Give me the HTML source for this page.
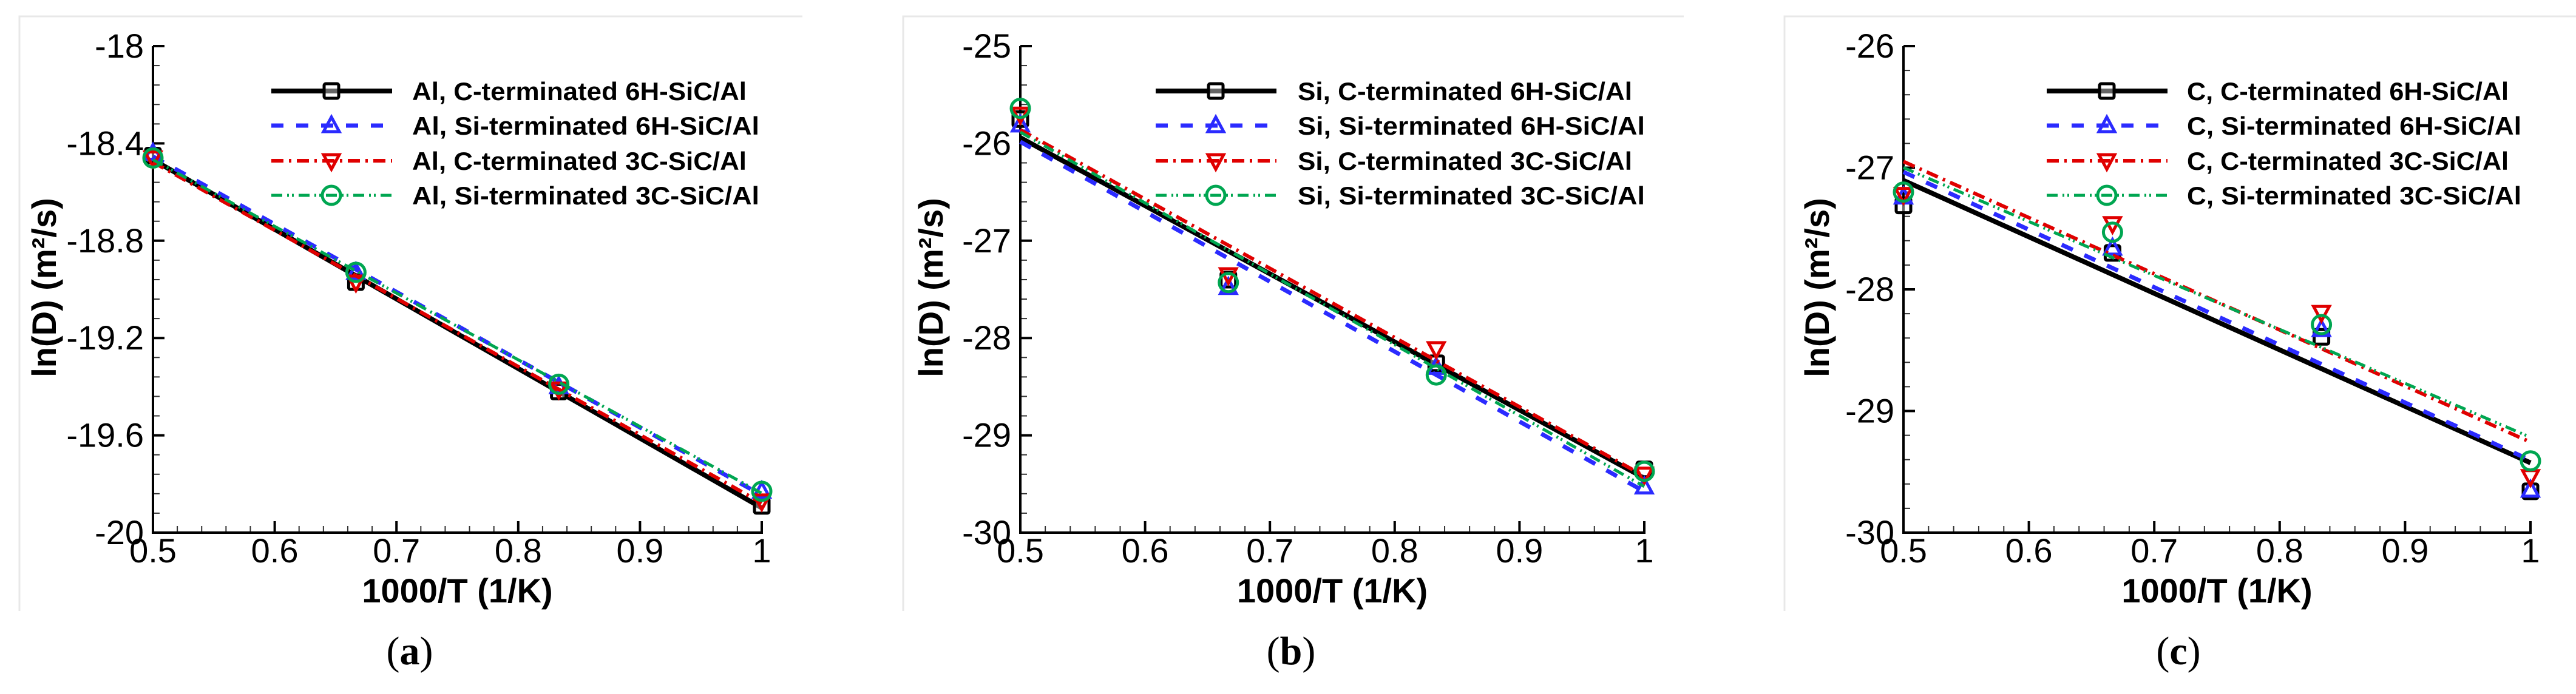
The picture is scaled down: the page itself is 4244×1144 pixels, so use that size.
<!DOCTYPE html>
<html><head><meta charset="utf-8"><style>
html,body{margin:0;padding:0;background:#fff;}
svg{display:block;}
text{font-family:"Liberation Sans",Arial,sans-serif;}
</style></head>
<body>
<svg id="fig" width="4244" height="1144" viewBox="0 0 4244 1144" xmlns="http://www.w3.org/2000/svg"></svg>
<script>
// ---- data ----
const xValues = [0.5, 0.6667, 0.8333, 1.0];
const xTickLabels = ["0.5","0.6","0.7","0.8","0.9","1"];
const seriesNamesA = ["Al, C-terminated 6H-SiC/Al","Al, Si-terminated 6H-SiC/Al","Al, C-terminated 3C-SiC/Al","Al, Si-terminated 3C-SiC/Al"];
const seriesNamesB = ["Si, C-terminated 6H-SiC/Al","Si, Si-terminated 6H-SiC/Al","Si, C-terminated 3C-SiC/Al","Si, Si-terminated 3C-SiC/Al"];
const seriesNamesC = ["C, C-terminated 6H-SiC/Al","C, Si-terminated 6H-SiC/Al","C, C-terminated 3C-SiC/Al","C, Si-terminated 3C-SiC/Al"];
// panel a
const a_c6H = [-18.45, -18.97, -19.42, -19.89];
const a_si6H = [-18.44, -18.93, -19.40, -19.83];
const a_c3C = [-18.46, -18.97, -19.41, -19.87];
const a_si3C = [-18.46, -18.93, -19.39, -19.83];
const a_yTicks = ["-18","-18.4","-18.8","-19.2","-19.6","-20"];
// panel b
const b_c6H = [-25.75, -27.40, -28.26, -29.35];
const b_si6H = [-25.81, -27.48, -28.30, -29.53];
const b_c3C = [-25.70, -27.35, -28.11, -29.40];
const b_si3C = [-25.64, -27.43, -28.38, -29.37];
const b_yTicks = ["-25","-26","-27","-28","-29","-30"];
// panel c
const c_c6H = [-27.31, -27.70, -28.39, -29.66];
const c_si6H = [-27.24, -27.66, -28.33, -29.65];
const c_c3C = [-27.22, -27.46, -28.19, -29.54];
const c_si3C = [-27.20, -27.53, -28.29, -29.41];
const c_yTicks = ["-26","-27","-28","-29","-30"];

const NS = "http://www.w3.org/2000/svg";
const svg = document.getElementById('fig');
function mk(tag, attrs, parent){
  const e = document.createElementNS(NS, tag);
  for (const k in attrs) e.setAttribute(k, attrs[k]);
  (parent||svg).appendChild(e);
  return e;
}
const styles = [
  {color:"#000000", w:8, dash:"", marker:"square", name:"c-6h"},
  {color:"#2b2bff", w:7, dash:"20,21", marker:"tri-up", name:"si-6h"},
  {color:"#e00000", w:6, dash:"20,9,4,9", marker:"tri-down", name:"c-3c"},
  {color:"#00a651", w:5, dash:"18,8,3,5,3,8", marker:"circle", name:"si-3c"}
];
const panels = [
  {id:"a", series:[a_c6H,a_si6H,a_c3C,a_si3C], names:seriesNamesA, yTicks:a_yTicks, ymax:-18, ymin:-20, minorStep:0.08,
   x0:252, x1:1255, frameL:32, frameR:1322, legX:447, textX:679, ytitleX:92, capX:675},
  {id:"b", series:[b_c6H,b_si6H,b_c3C,b_si3C], names:seriesNamesB, yTicks:b_yTicks, ymax:-25, ymin:-30, minorStep:0.2,
   x0:1681, x1:2709, frameL:1488, frameR:2774, legX:1904, textX:2138, ytitleX:1553, capX:2127},
  {id:"c", series:[c_c6H,c_si6H,c_c3C,c_si3C], names:seriesNamesC, yTicks:c_yTicks, ymax:-26, ymin:-30, minorStep:0.2,
   x0:3136, x1:4169, frameL:2940, frameR:4244, legX:3372, textX:3603, ytitleX:3013, capX:3589}
];
const yTop = 76, yBot = 878;

function drawMarker(g, type, cx, cy, color){
  let m;
  if (type==="square") m = mk('rect',{x:cx-12,y:cy-12,width:24,height:24,rx:3,fill:"#fff","fill-opacity":0.4,stroke:color,"stroke-width":5},g);
  else if (type==="circle") m = mk('circle',{cx:cx,cy:cy,r:15,fill:"none",stroke:color,"stroke-width":5},g);
  else if (type==="tri-up") m = mk('polygon',{points:`${cx},${cy-14} ${cx+13},${cy+10} ${cx-13},${cy+10}`,fill:"none",stroke:color,"stroke-width":5},g);
  else m = mk('polygon',{points:`${cx},${cy+14} ${cx+13},${cy-10} ${cx-13},${cy-10}`,fill:"none",stroke:color,"stroke-width":5},g);
  
  
  return m;
}
function fit(xs, ys){
  const n = xs.length; let mx=0,my=0; for(let i=0;i<n;i++){mx+=xs[i];my+=ys[i];} mx/=n; my/=n;
  let sxy=0,sxx=0; for(let i=0;i<n;i++){sxy+=(xs[i]-mx)*(ys[i]-my); sxx+=(xs[i]-mx)**2;}
  const s = sxy/sxx; return x => my + s*(x-mx);
}

panels.forEach(p=>{
  const g = mk('g',{});
  
  
  const X = v => p.x0 + (v-0.5)/0.5*(p.x1-p.x0);
  const Y = v => yTop + (p.ymax - v)/(p.ymax-p.ymin)*(yBot-yTop);
  const fr = mk('path',{d:`M${p.frameL},1007 L${p.frameL},27 L${p.frameR},27`,fill:"none",stroke:"#e8e8e8","stroke-width":3},g);
  
  
  const nMinor = Math.round((p.ymax-p.ymin)/p.minorStep);
  for(let i=0;i<=nMinor;i++){
    const v = p.ymax - i*p.minorStep;
    const t = mk('line',{x1:p.x0,x2:p.x0+11,y1:Y(v),y2:Y(v),stroke:"#333","stroke-width":2},g);
    
    
  }
  p.yTicks.forEach(lbl=>{
    const v = parseFloat(lbl);
    const t = mk('line',{x1:p.x0,x2:p.x0+19,y1:Y(v),y2:Y(v),stroke:"#000","stroke-width":4},g);
    
    
    const tx = mk('text',{x:p.x0-15,y:Y(v)+19,"text-anchor":"end","font-size":56,fill:"#000"},g);
    tx.textContent = lbl;
    
    
  });
  for(let i=0;i<=25;i++){
    const v = 0.5 + i*0.02;
    const major = i%5===0;
    const t = mk('line',{x1:X(v),x2:X(v),y1:yBot,y2:yBot-(major?19:11),stroke:major?"#000":"#333","stroke-width":major?4:2},g);
    
    
  }
  xTickLabels.forEach(lbl=>{
    const v = parseFloat(lbl);
    const tx = mk('text',{x:X(v),y:927,"text-anchor":"middle","font-size":56,fill:"#000"},g);
    tx.textContent = lbl;
    
    
  });
  const ax = mk('path',{d:`M${p.x0},${yTop} L${p.x0},${yBot} L${p.x1},${yBot} L${p.x1},${yBot-19}`,fill:"none",stroke:"#000","stroke-width":4},g);
  
  
  const xt = mk('text',{x:(p.x0+p.x1)/2,y:993,"text-anchor":"middle","font-size":56,"font-weight":"bold",fill:"#000"},g);
  xt.textContent = "1000/T (1/K)";
  
  
  const yt = mk('text',{x:0,y:0,"text-anchor":"middle","font-size":56,"font-weight":"bold",fill:"#000",transform:`translate(${p.ytitleX},474) rotate(-90)`},g);
  yt.textContent = "ln(D) (m²/s)";
  
  
  p.series.forEach((ys,si)=>{
    const st = styles[si];
    const sg = mk('g',{},g);
    
    
    const f = fit(xValues, ys);
    const ln = mk('line',{x1:X(0.5),y1:Y(f(0.5)),x2:X(1),y2:Y(f(1)),stroke:st.color,"stroke-width":st.w,"stroke-dasharray":st.dash},sg);
    
    
    ys.forEach((v,i)=>{ drawMarker(sg, st.marker, X(xValues[i]), Y(v), st.color); });
  });
  const lg = mk('g',{},g);
  
  
  const rows = [150,207,265,322];
  p.names.forEach((nm,si)=>{
    const st = styles[si];
    const eg = mk('g',{},lg);
    
    
    const y = rows[si];
    mk('line',{x1:p.legX,x2:p.legX+199,y1:y,y2:y,stroke:st.color,"stroke-width":st.w,"stroke-dasharray":st.dash},eg);
    drawMarker(eg, st.marker, p.legX+99, y, st.color);
    const tx = mk('text',{x:p.textX,y:y+15,"font-size":42,"font-weight":"bold",fill:"#000",textLength:Math.round(20.8*nm.length+10),lengthAdjust:"spacingAndGlyphs"},eg);
    tx.textContent = nm;
    
    
  });
  const cap = mk('text',{x:p.capX,y:1095,"text-anchor":"middle","font-size":66,fill:"#000",style:"font-family:'Liberation Serif',serif"},g);
  cap.innerHTML = `(<tspan font-weight="bold">${p.id}</tspan>)`;
  
  
});
</script>
</body></html>
